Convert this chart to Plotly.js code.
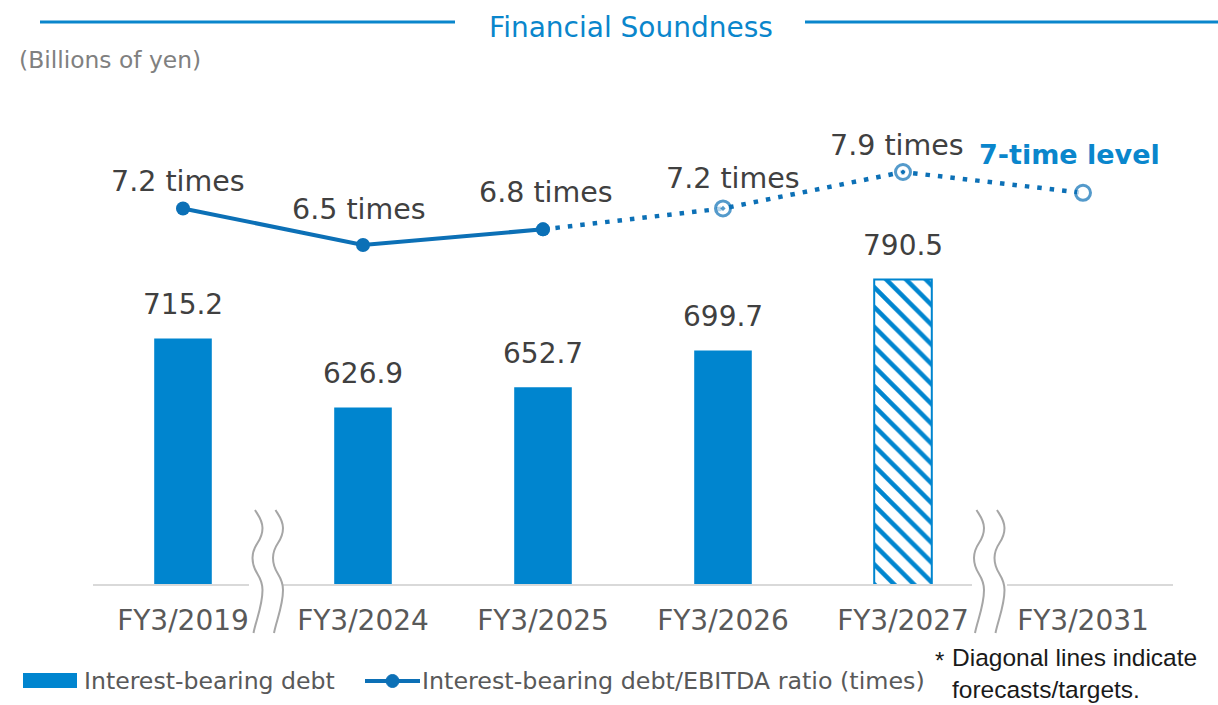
<!DOCTYPE html>
<html><head><meta charset="utf-8">
<script src="https://cdn.plot.ly/plotly-3.0.1.min.js"></script>
<style>html,body{margin:0;padding:0;background:#fff}#chart{width:1218px;height:705px}</style>
</head><body><div id="chart"></div>
<script>
// ---- data ----
const categories = ['FY3/2019', 'FY3/2024', 'FY3/2025', 'FY3/2026', 'FY3/2027', 'FY3/2031'];
const debt = [715.2, 626.9, 652.7, 699.7, 790.5, null];
const debtLabels = ['715.2', '626.9', '652.7', '699.7', '790.5', ''];
const ratio = [7.2, 6.5, 6.8, 7.2, 7.9, 7.5];
const ratioLabels = ['7.2 times', '6.5 times', '6.8 times', '7.2 times', '7.9 times', '7-time level'];
const debtForecast = [false, false, false, false, true, false];
const solidUntil = 3; // first points joined by a solid line (actuals)

// ---- styles ----
const BAR = '#0085cf';
const LINE = '#0c70b6';
const TITLE = '#0a86cc';
const FONT = 'DejaVu Sans, Verdana, sans-serif';
const ratioSymbols = ['circle', 'circle', 'circle', 'circle-dot', 'circle-dot', 'circle'];
const ratioFill = ['solid', 'solid', 'solid', 'open', 'open', 'open'];
const ratioLabelShift = [[-5, 27], [-4, 35], [3, 37], [10, 30], [-6, 27], [-14, 38]];
const ratioLabelBold = [false, false, false, false, false, true];

// plot area in pixels
const L = 93, R = 1173, T = 100, B = 585, W = 1218, H = 705;
const px = v => (v - L) / (R - L);
const py = v => (B - v) / (B - T);

const barTrace = {
  type: 'bar', x: categories, y: debt, name: 'Interest-bearing debt',
  width: 0.32, showlegend: false, hoverinfo: 'x+y',
  marker: {
    color: debtForecast.map(f => BAR),
    line: { color: BAR, width: debtForecast.map(f => f ? 2 : 0) },
    pattern: {
      shape: debtForecast.map(f => f ? '\\' : ''),
      fgcolor: debtForecast.map(f => BAR),
      bgcolor: debtForecast.map(f => '#ffffff'),
      fgopacity: 1,
      size: 14, solidity: 0.32, fillmode: 'replace'
    }
  }
};

const solidTrace = {
  type: 'scatter', mode: 'lines+markers', yaxis: 'y2', showlegend: false,
  x: categories.slice(0, solidUntil), y: ratio.slice(0, solidUntil),
  name: 'Interest-bearing debt/EBITDA ratio (times)',
  line: { color: LINE, width: 4 },
  marker: { size: 14, color: LINE }
};
const dotTrace = {
  type: 'scatter', mode: 'lines+markers', yaxis: 'y2', showlegend: false,
  x: categories.slice(solidUntil - 1), y: ratio.slice(solidUntil - 1),
  name: 'Interest-bearing debt/EBITDA ratio (times)',
  line: { color: LINE, width: 4.5, dash: '4.5px,8px' },
  marker: {
    size: ratioFill.slice(solidUntil - 1).map(f => f === 'solid' ? 14 : 15),
    symbol: ratioSymbols.slice(solidUntil - 1),
    color: ratioFill.slice(solidUntil - 1).map(f => f === 'solid' ? LINE : '#ffffff'),
    line: { color: LINE, width: ratioFill.slice(solidUntil - 1).map(f => f === 'solid' ? 0 : 3) }
  }
};

const annotations = [];
categories.forEach((c, i) => {
  if (debt[i] !== null) {
    annotations.push({ x: c, y: debt[i], xref: 'x', yref: 'y', text: debtLabels[i], showarrow: false,
      yanchor: 'middle', yshift: 34, font: { family: FONT, size: 28, color: '#404040' } });
  }
  annotations.push({ x: c, y: ratio[i], xref: 'x', yref: 'y2',
    text: ratioLabelBold[i] ? '<b>' + ratioLabels[i] + '</b>' : ratioLabels[i], showarrow: false,
    yanchor: 'middle', xshift: ratioLabelShift[i][0], yshift: ratioLabelShift[i][1],
    font: { family: FONT, size: ratioLabelBold[i] ? 27 : 28.5, color: ratioLabelBold[i] ? TITLE : '#404040' } });
});

// unit + legend + note
annotations.push({ xref: 'paper', yref: 'paper', x: px(17), y: py(60), xanchor: 'left', yanchor: 'middle',
  text: '(Billions of yen)', showarrow: false, font: { family: FONT, size: 23.4, color: '#808080' } });
annotations.push({ xref: 'paper', yref: 'paper', x: px(82), y: py(681), xanchor: 'left', yanchor: 'middle',
  text: 'Interest-bearing debt', showarrow: false, font: { family: FONT, size: 23.6, color: '#595959' } });
annotations.push({ xref: 'paper', yref: 'paper', x: px(420), y: py(681), xanchor: 'left', yanchor: 'middle',
  text: 'Interest-bearing debt/EBITDA ratio (times)', showarrow: false, font: { family: FONT, size: 23.8, color: '#595959' } });
annotations.push({ xref: 'paper', yref: 'paper', x: px(933), y: py(660), xanchor: 'left', yanchor: 'middle',
  text: '*', showarrow: false, font: { family: 'Liberation Sans, sans-serif', size: 24, color: '#1a1a1a' } });
annotations.push({ xref: 'paper', yref: 'paper', x: px(950), y: py(673), xanchor: 'left', yanchor: 'middle', align: 'left',
  text: 'Diagonal lines indicate<br>forecasts/targets.', showarrow: false,
  font: { family: 'Liberation Sans, sans-serif', size: 24.5, color: '#1a1a1a' } });

function P(x, y) { return px(x) + ',' + py(y); }
function wave(x0) {
  return 'M' + P(x0, 510) +
    ' C' + P(x0 + 3, 515) + ' ' + P(x0 + 7.5, 520) + ' ' + P(x0 + 7.5, 528) +
    ' C' + P(x0 + 7.5, 543) + ' ' + P(x0 - 2.5, 543) + ' ' + P(x0 - 2.5, 558) +
    ' C' + P(x0 - 2.5, 574) + ' ' + P(x0 + 7.5, 574) + ' ' + P(x0 + 7.5, 590) +
    ' C' + P(x0 + 7.5, 606) + ' ' + P(x0 + 1, 620) + ' ' + P(x0 - 1.5, 633);
}
const GRAY = '#a6a6a6';
const shapes = [
  // title rules
  { type: 'line', xref: 'paper', yref: 'paper', x0: px(40), x1: px(455), y0: py(22), y1: py(22), line: { color: TITLE, width: 3 } },
  { type: 'line', xref: 'paper', yref: 'paper', x0: px(805), x1: px(1220), y0: py(22), y1: py(22), line: { color: TITLE, width: 3 } },
  // baseline segments with breaks
  { type: 'line', xref: 'paper', yref: 'paper', x0: px(93), x1: px(249), y0: 0, y1: 0, line: { color: '#d9d9d9', width: 2 } },
  { type: 'line', xref: 'paper', yref: 'paper', x0: px(283), x1: px(972), y0: 0, y1: 0, line: { color: '#d9d9d9', width: 2 } },
  { type: 'line', xref: 'paper', yref: 'paper', x0: px(1007), x1: px(1173), y0: 0, y1: 0, line: { color: '#d9d9d9', width: 2 } },
  // break marks
  { type: 'path', xref: 'paper', yref: 'paper', path: wave(255), line: { color: GRAY, width: 2 } },
  { type: 'path', xref: 'paper', yref: 'paper', path: wave(275.5), line: { color: GRAY, width: 2 } },
  { type: 'path', xref: 'paper', yref: 'paper', path: wave(976.5), line: { color: GRAY, width: 2 } },
  { type: 'path', xref: 'paper', yref: 'paper', path: wave(997), line: { color: GRAY, width: 2 } },
  // legend symbols
  { type: 'rect', xref: 'paper', yref: 'paper', x0: px(23), x1: px(77), y0: py(673), y1: py(688), fillcolor: BAR, line: { width: 0 } },
  { type: 'line', xref: 'paper', yref: 'paper', x0: px(365), x1: px(420), y0: py(681), y1: py(681), line: { color: LINE, width: 4 } },
  { type: 'circle', xref: 'paper', yref: 'paper', x0: px(386), x1: px(399), y0: py(674.5), y1: py(687.5), fillcolor: LINE, line: { color: LINE, width: 1 } }
];

const layout = {
  width: W, height: H,
  margin: { l: L, r: W - R, t: T, b: H - B, pad: 0 },
  paper_bgcolor: '#ffffff', plot_bgcolor: '#ffffff',
  showlegend: false,
  title: { text: 'Financial Soundness', font: { family: FONT, size: 28, color: TITLE },
    xref: 'container', yref: 'container', x: 631 / W, xanchor: 'center', y: 1 - 27 / H, yanchor: 'middle' },
  xaxis: { type: 'category', showline: false, showgrid: false, zeroline: false, ticks: '',
    ticklabelstandoff: 16,
    tickfont: { family: FONT, size: 28, color: '#595959' }, fixedrange: true },
  yaxis: { range: [400, 1020], visible: false, showgrid: false, zeroline: false, fixedrange: true },
  yaxis2: { range: [-0.026, 9.282], overlaying: 'y', visible: false, showgrid: false, zeroline: false, fixedrange: true },
  annotations: annotations,
  shapes: shapes,
  bargap: 0.68
};

Plotly.newPlot('chart', [barTrace, solidTrace, dotTrace], layout, { displayModeBar: false, staticPlot: true });
</script></body></html>
